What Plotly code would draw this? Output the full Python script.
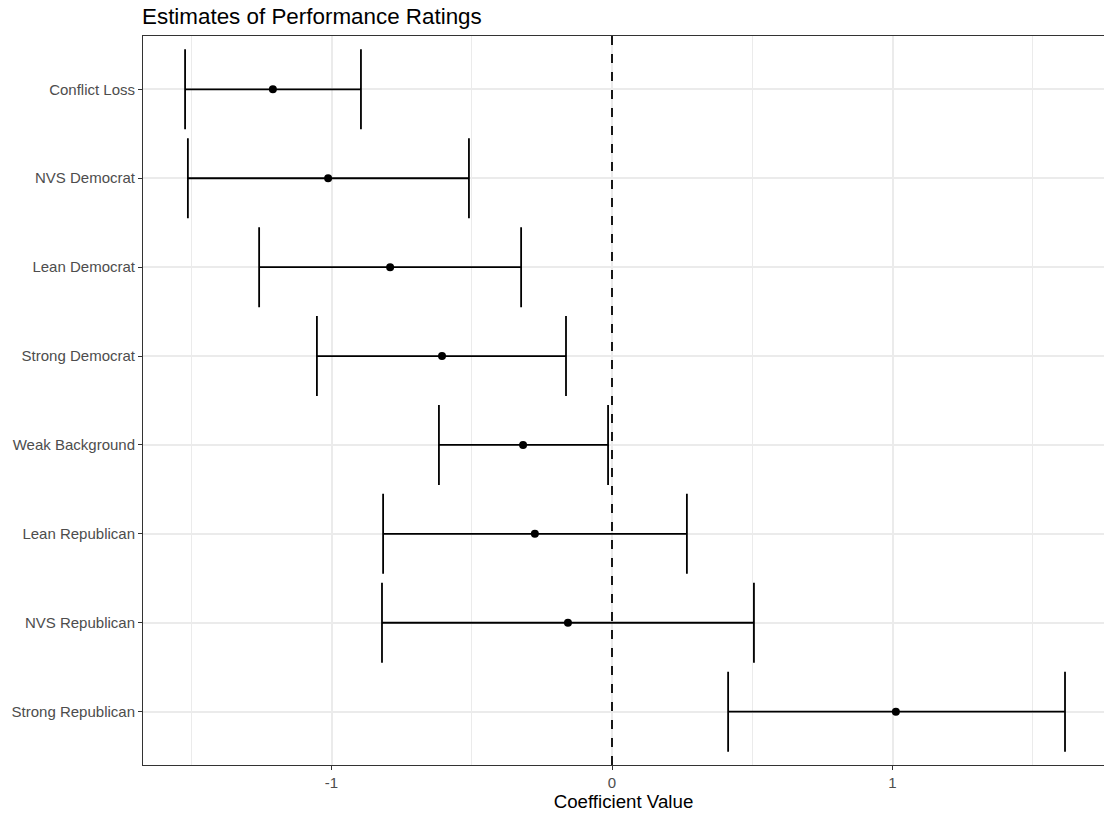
import plotly.graph_objects as go

terms = ["Conflict Loss", "NVS Democrat", "Lean Democrat", "Strong Democrat",
         "Weak Background", "Lean Republican", "NVS Republican", "Strong Republican"]
estimate = [-1.209, -1.012, -0.791, -0.606, -0.317, -0.275, -0.157, 1.012]
lower = [-1.522, -1.512, -1.258, -1.052, -0.617, -0.816, -0.820, 0.414]
upper = [-0.895, -0.510, -0.324, -0.164, -0.014, 0.267, 0.506, 1.615]

err_plus = [u - e for u, e in zip(upper, estimate)]
err_minus = [e - l for e, l in zip(estimate, lower)]

fig = go.Figure()
fig.add_trace(go.Scatter(
    x=estimate, y=terms, mode="markers",
    marker=dict(color="black", size=8),
    error_x=dict(type="data", array=err_plus, arrayminus=err_minus,
                 color="black", thickness=1.8, width=40),
    showlegend=False, hoverinfo="x+y"))

fig.add_vline(x=0, line=dict(color="black", width=1.8, dash="dash"))

fig.update_layout(
    width=1104, height=815,
    margin=dict(l=143, r=0, t=36, b=50),
    paper_bgcolor="white", plot_bgcolor="white",
    font=dict(family="Liberation Sans, Arial, Helvetica, sans-serif", color="#4d4d4d"),
    title=dict(text="Estimates of Performance Ratings", x=142/1104, xanchor="left",
               xref="container", y=1-16/815, yanchor="middle", yref="container",
               font=dict(size=22.4, color="black")),
    xaxis=dict(range=[-1.672, 1.754], tickvals=[-1, 0, 1], ticktext=["-1", "0", "1"],
               showgrid=True, gridcolor="#ebebeb", gridwidth=1.5,
               minor=dict(tickvals=[-1.5, -0.5, 0.5, 1.5], showgrid=True,
                          gridcolor="#ebebeb", gridwidth=0.8),
               showline=True, linecolor="#333333", linewidth=1, mirror=True,
               ticks="outside", ticklen=4, tickcolor="#333333",
               tickfont=dict(size=15, color="#4d4d4d"), zeroline=False,
               title=dict(text="Coefficient Value", font=dict(size=18.7, color="black"), standoff=4)),
    yaxis=dict(type="category", categoryorder="array", categoryarray=terms,
               range=[7.6, -0.6],
               showgrid=True, gridcolor="#ebebeb", gridwidth=1.5,
               showline=True, linecolor="#333333", linewidth=1,
               ticks="outside", ticklen=4, tickcolor="#333333",
               tickfont=dict(size=15, color="#4d4d4d"), zeroline=False),
)

fig.write_html("out.html", config={"displayModeBar": False},
               post_script="document.body.style.margin='0px';")
